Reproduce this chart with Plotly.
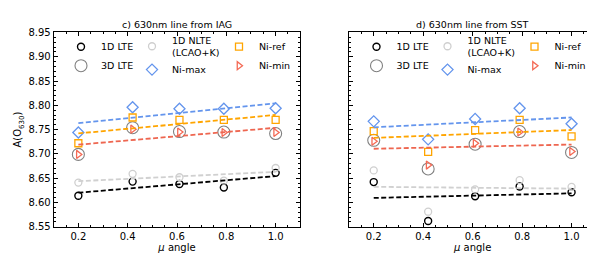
import numpy as np
import plotly.graph_objects as go

# ---------------- data ----------------
mu = [0.2, 0.42, 0.61, 0.79, 1.0]

iag_1d_lte = [8.614, 8.643, 8.638, 8.631, 8.661]
iag_1d_nlte = [8.641, 8.659, 8.652, 8.645, 8.671]
iag_3d_lte = [8.699, 8.754, 8.746, 8.745, 8.742]
iag_ni_max = [8.744, 8.796, 8.793, 8.793, 8.794]
iag_ni_ref = [8.722, 8.775, 8.770, 8.770, 8.770]
iag_ni_min = [8.699, 8.751, 8.745, 8.744, 8.744]

sst_1d_lte = [8.642, 8.562, 8.613, 8.633, 8.621]
sst_1d_nlte = [8.666, 8.581, 8.627, 8.646, 8.632]
sst_3d_lte = [8.728, 8.669, 8.720, 8.746, 8.703]
sst_ni_max = [8.767, 8.730, 8.772, 8.794, 8.762]
sst_ni_ref = [8.747, 8.704, 8.749, 8.770, 8.736]
sst_ni_min = [8.726, 8.677, 8.722, 8.745, 8.705]

series_names = ["1D LTE", "3D LTE", "1D NLTE<br>(LCAO+K)", "Ni-max", "Ni-ref", "Ni-min"]
panel_titles = ["c) 630nm line from IAG", "d) 630nm line from SST"]
y_ticks = [8.55, 8.60, 8.65, 8.70, 8.75, 8.80, 8.85, 8.90, 8.95]
x_ticks = [0.2, 0.4, 0.6, 0.8, 1.0]

panels = [
    [iag_1d_lte, iag_3d_lte, iag_1d_nlte, iag_ni_max, iag_ni_ref, iag_ni_min],
    [sst_1d_lte, sst_3d_lte, sst_1d_nlte, sst_ni_max, sst_ni_ref, sst_ni_min],
]

# ---------------- styles ----------------
styles = [
    dict(symbol="circle-open", size=7, color="black", lw=1.4, fit=True, lc="black"),
    dict(symbol="circle-open", size=12, color="#808080", lw=1.1, fit=False, lc=None),
    dict(symbol="circle-open", size=7, color="#CFCFCF", lw=1.3, fit=True, lc="#D0D0D0"),
    dict(symbol="diamond-open", size=8.5, color="#6495ED", lw=1.3, fit=True, lc="#6495ED"),
    dict(symbol="square-open", size=7, color="#FFA500", lw=1.3, fit=True, lc="#FFA500"),
    dict(symbol="triangle-right-open", size=7, color="#F46A55", lw=1.3, fit=True, lc="#EE6650"),
]
# legend column for each series
legend_col = [0, 0, 1, 1, 2, 2]

FONT = "DejaVu Sans"
W, H = 595, 257
dom_x = [[45.7 / W, 292.3 / W], [341.0 / W, 588.3 / W]]
dom_y = [1 - 222.3 / H, 1 - 19.3 / H]

fig = go.Figure()

for p, data in enumerate(panels):
    xa = "x" if p == 0 else "x2"
    ya = "y" if p == 0 else "y2"
    # markers
    for i, vals in enumerate(data):
        st = styles[i]
        lg = "legend" if (p * 3 + legend_col[i]) == 0 else "legend%d" % (p * 3 + legend_col[i] + 1)
        fig.add_trace(go.Scatter(
            x=mu, y=vals, mode="markers", name=series_names[i],
            xaxis=xa, yaxis=ya, legend=lg, showlegend=True,
            marker=dict(symbol=st["symbol"], size=st["size"], color=st["color"],
                        line=dict(color=st["color"], width=st["lw"])),
        ))
    # fitted trend lines
    for i, vals in enumerate(data):
        st = styles[i]
        if not st["fit"]:
            continue
        k, b = np.polyfit(mu, vals, 1)
        xs = [mu[0], mu[-1]]
        fig.add_trace(go.Scatter(
            x=xs, y=[k * x + b for x in xs], mode="lines", showlegend=False,
            xaxis=xa, yaxis=ya, hoverinfo="skip",
            line=dict(color=st["lc"], width=1.8, dash="5px,2.5px"),
        ))

axis_common = dict(
    showgrid=False, zeroline=False, showline=True, linecolor="black", linewidth=1,
    mirror="allticks", ticks="inside", ticklen=4, tickwidth=0.9, tickcolor="black",
    tickfont=dict(family=FONT, size=10, color="black"),
)

fig.update_layout(
    width=W, height=H,
    margin=dict(l=0, r=0, t=0, b=0),
    paper_bgcolor="white", plot_bgcolor="white",
    font=dict(family=FONT, size=10, color="black"),
    xaxis=dict(domain=dom_x[0], range=[0.1, 1.1], tickvals=x_ticks,
               ticktext=["%.1f" % v for v in x_ticks], anchor="y",
               minor=dict(dtick=0.05, ticks="inside", ticklen=2, tickwidth=0.8, tickcolor="black"),
               title=dict(text="<i>μ</i> angle", font=dict(family=FONT, size=10), standoff=3),
               **axis_common),
    xaxis2=dict(domain=dom_x[1], range=[0.1, 1.1], tickvals=x_ticks,
                ticktext=["%.1f" % v for v in x_ticks], anchor="y2",
                minor=dict(dtick=0.05, ticks="inside", ticklen=2, tickwidth=0.8, tickcolor="black"),
                title=dict(text="<i>μ</i> angle", font=dict(family=FONT, size=10), standoff=3),
                **axis_common),
    yaxis=dict(domain=dom_y, range=[8.55, 8.95], tickvals=y_ticks,
               ticktext=["%.2f" % v for v in y_ticks], anchor="x",
               minor=dict(dtick=0.01, ticks="inside", ticklen=2, tickwidth=0.8, tickcolor="black"),
               title=dict(text="A(O<sub>630</sub>)", font=dict(family=FONT, size=10), standoff=4),
               **axis_common),
    yaxis2=dict(domain=dom_y, range=[8.55, 8.95], tickvals=y_ticks, showticklabels=False,
                anchor="x2",
                minor=dict(dtick=0.01, ticks="inside", ticklen=2, tickwidth=0.8, tickcolor="black"),
                **axis_common),
)

# legends: three columns per panel
col_px = [53, 124, 211]
col_top = [19, 14, 19]
panel_off = [0, 295.5]
for p in range(2):
    for c in range(3):
        n = p * 3 + c
        key = "legend" if n == 0 else "legend%d" % (n + 1)
        fig.update_layout({key: dict(
            x=(col_px[c] + panel_off[p]) / W, y=1 - col_top[c] / H,
            xanchor="left", yanchor="top", orientation="v",
            bgcolor="rgba(0,0,0,0)", borderwidth=0,
            font=dict(family=FONT, size=9.5, color="black"),
            tracegroupgap=0, itemwidth=30,
        )})

for p in range(2):
    fig.add_annotation(
        x=(dom_x[p][0] + dom_x[p][1]) / 2, y=1 - 10.5 / H, xref="paper", yref="paper",
        text=panel_titles[p], showarrow=False, xanchor="center", yanchor="middle",
        font=dict(family=FONT, size=9.5, color="black"),
    )

fig.write_html("out.html")
